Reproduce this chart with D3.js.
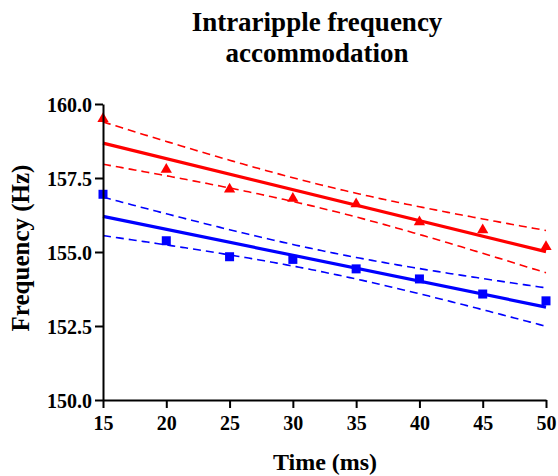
<!DOCTYPE html>
<html>
<head>
<meta charset="utf-8">
<script src="https://cdn.jsdelivr.net/npm/d3@7/dist/d3.min.js"></script>
<style>
  html, body { margin: 0; padding: 0; background: #fff; }
  svg { display: block; }
  text { font-family: "Liberation Serif", "LiberationSerif", "Tinos", "Times New Roman", Times, "DejaVu Serif", serif; font-weight: bold; fill: #000; }
</style>
</head>
<body>
<svg id="chart" width="558" height="476"></svg>
<script>
// ---- data ----
const times = [15, 20, 25, 30, 35, 40, 45, 50];
const seriesRed = [159.50, 157.79, 157.12, 156.81, 156.62, 156.01, 155.74, 155.18];
const seriesBlue = [156.95, 155.38, 154.84, 154.75, 154.43, 154.09, 153.58, 153.35];
const xTicks = [15, 20, 25, 30, 35, 40, 45, 50];
const yTicks = [150.0, 152.5, 155.0, 157.5, 160.0];
const titleLines = ["Intraripple frequency", "accommodation"];
const xLabel = "Time (ms)";
const yLabel = "Frequency (Hz)";
const tCrit = 2.4469; // 95% two-sided, df = 6
const FONT = '"Liberation Serif", "LiberationSerif", "Tinos", "Times New Roman", Times, "DejaVu Serif", serif';

// ---- layout ----
const svg = d3.select("#chart");
const mLeft = 103, mRight = 546, mTop = 104, mBottom = 400;
const x = d3.scaleLinear().domain([15, 50]).range([mLeft, mRight]);
const y = d3.scaleLinear().domain([150, 160]).range([mBottom, mTop]);

// regression with 95% confidence band
function linreg(xs, ys) {
  const n = xs.length;
  const mx = d3.mean(xs), my = d3.mean(ys);
  let sxx = 0, sxy = 0;
  xs.forEach((xi, i) => { sxx += (xi - mx) ** 2; sxy += (xi - mx) * (ys[i] - my); });
  const b = sxy / sxx, a = my - b * mx;
  let sse = 0;
  xs.forEach((xi, i) => { sse += (ys[i] - (a + b * xi)) ** 2; });
  const s = Math.sqrt(sse / (n - 2));
  return {
    fit: xv => a + b * xv,
    half: xv => tCrit * s * Math.sqrt(1 / n + (xv - mx) ** 2 / sxx)
  };
}

const xs = d3.range(15, 50.001, 0.25);
const line = d3.line().x(d => x(d[0])).y(d => y(d[1]));

function drawSeries(vals, color) {
  const r = linreg(times, vals);
  const g = svg.append("g");
  g.append("path").attr("d", line(xs.map(v => [v, r.fit(v) + r.half(v)])))
    .attr("fill", "none").attr("stroke", color).attr("stroke-width", 1.6).attr("stroke-dasharray", "8,5");
  g.append("path").attr("d", line(xs.map(v => [v, r.fit(v) - r.half(v)])))
    .attr("fill", "none").attr("stroke", color).attr("stroke-width", 1.6).attr("stroke-dasharray", "8,5");
  g.append("path").attr("d", line([[15, r.fit(15)], [50, r.fit(50)]]))
    .attr("fill", "none").attr("stroke", color).attr("stroke-width", 3.2);
  return g;
}

const gRed = drawSeries(seriesRed, "#ff0000");
const gBlue = drawSeries(seriesBlue, "#0000ff");

// markers
gRed.selectAll("path.pt").data(times).enter().append("path")
  .attr("class", "pt")
  .attr("transform", (d, i) => `translate(${x(d)},${y(seriesRed[i])})`)
  .attr("d", d3.symbol().type(d3.symbolTriangle).size(55))
  .attr("fill", "#ff0000");
gBlue.selectAll("rect.pt").data(times).enter().append("rect")
  .attr("class", "pt")
  .attr("x", d => x(d) - 4.5).attr("y", (d, i) => y(seriesBlue[i]) - 4.5)
  .attr("width", 9).attr("height", 9)
  .attr("fill", "#0000ff");

// axes
const xAxis = svg.append("g").attr("transform", `translate(0,${mBottom})`)
  .call(d3.axisBottom(x).tickValues(xTicks).tickSize(8).tickSizeOuter(0).tickPadding(4));
const yAxis = svg.append("g").attr("transform", `translate(${mLeft},0)`)
  .call(d3.axisLeft(y).tickValues(yTicks).tickFormat(d3.format(".1f")).tickSize(8).tickSizeOuter(0).tickPadding(3));
[xAxis, yAxis].forEach(a => {
  a.attr("font-family", FONT);
  a.select(".domain").attr("stroke", "#000").attr("stroke-width", 2);
  a.selectAll(".tick line").attr("stroke", "#000").attr("stroke-width", 2);
  a.selectAll(".tick text").style("font-family", FONT)
    .style("font-weight", "bold").style("font-size", "20px").attr("fill", "#000");
});
xAxis.selectAll(".tick text").attr("dy", "0.9em");
yAxis.selectAll(".tick text").attr("dy", "0.35em");

// titles
svg.append("text").attr("x", 317).attr("y", 31).attr("text-anchor", "middle")
  .style("font-family", FONT).style("font-size", "27px").text(titleLines[0]);
svg.append("text").attr("x", 317).attr("y", 62).attr("text-anchor", "middle")
  .style("font-family", FONT).style("font-size", "27px").text(titleLines[1]);
svg.append("text").attr("x", 325).attr("y", 470).attr("text-anchor", "middle")
  .style("font-family", FONT).style("font-size", "24px").text(xLabel);
svg.append("text").attr("transform", "translate(29,248) rotate(-90)").attr("text-anchor", "middle")
  .style("font-family", FONT).style("font-size", "25px").text(yLabel);
</script>
</body>
</html>
